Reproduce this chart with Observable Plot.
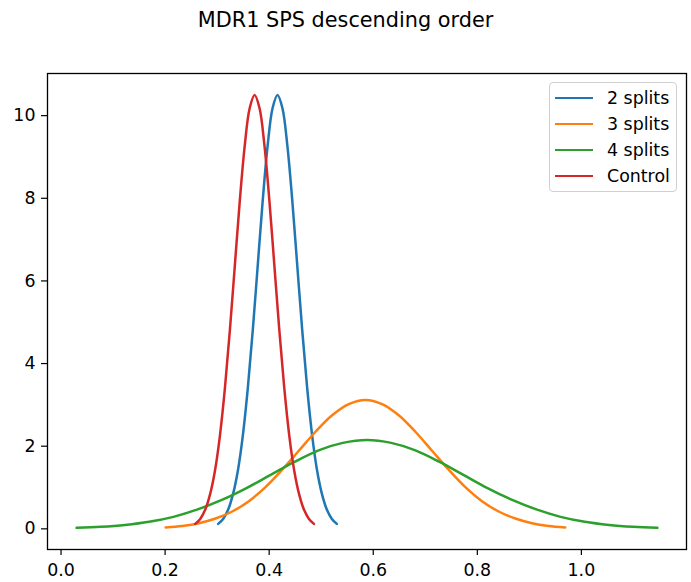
<!DOCTYPE html>
<html>
<head>
<meta charset="utf-8">
<script src="https://cdn.jsdelivr.net/npm/d3@7"></script>
<script src="https://cdn.jsdelivr.net/npm/@observablehq/plot@0.6"></script>
<style>
  html, body { margin: 0; padding: 0; background: #fff; }
  body { width: 691px; height: 582px; position: relative; font-family: "DejaVu Sans", sans-serif; }
  #title { height: 45px; text-align: center; font-size: 20.8px; line-height: 40px; color: #000; }
  #legend { position: absolute; left: 549px; top: 82px; width: 128px; height: 110px;
    border: 1px solid #d0d0d0; border-radius: 4px; background: rgba(255,255,255,0.8); box-sizing: border-box; }
  .row { position: absolute; left: 0; height: 22px; font-size: 17.4px; color: #000; }
  .row .sw { position: absolute; left: 5px; width: 38px; height: 2.5px; top: 9.5px; }
  .row .lb { position: absolute; left: 57px; top: 0; line-height: 22px; white-space: nowrap; }
</style>
</head>
<body>
<div id="title">MDR1 SPS descending order</div>
<div id="chart"></div>
<div id="legend"></div>
<script>
// Series names and colours
const seriesNames = ["2 splits", "3 splits", "4 splits", "Control"];
const seriesColors = ["#1f77b4", "#ff7f0e", "#2ca02c", "#d62728"];

// Values
const x2 = [0.302, 0.3115, 0.321, 0.3305, 0.340, 0.3495, 0.359, 0.3685, 0.378, 0.3875, 0.397, 0.4065, 0.416,
            0.4255, 0.435, 0.4445, 0.454, 0.4635, 0.473, 0.4825, 0.492, 0.5015, 0.511, 0.5205, 0.530];
const y2 = [0.12, 0.24, 0.46, 0.84, 1.42, 2.27, 3.41, 4.81, 6.37, 7.93, 9.27, 10.18, 10.5,
            10.18, 9.27, 7.93, 6.37, 4.81, 3.41, 2.27, 1.42, 0.84, 0.46, 0.24, 0.12];

const x3 = [0.201, 0.233, 0.265, 0.297, 0.329, 0.361, 0.393, 0.425, 0.457, 0.489, 0.521, 0.553, 0.585,
            0.617, 0.649, 0.681, 0.713, 0.745, 0.777, 0.809, 0.841, 0.873, 0.905, 0.937, 0.969];
const y3 = [0.035, 0.071, 0.137, 0.25, 0.42, 0.67, 1.01, 1.43, 1.89, 2.35, 2.75, 3.02, 3.12,
            3.02, 2.75, 2.35, 1.89, 1.43, 1.01, 0.67, 0.42, 0.25, 0.137, 0.071, 0.035];

const x4 = [0.030, 0.0765, 0.123, 0.1695, 0.216, 0.2625, 0.309, 0.3555, 0.402, 0.4485, 0.495, 0.5415, 0.588,
            0.6345, 0.681, 0.7275, 0.774, 0.8205, 0.867, 0.9135, 0.960, 1.0065, 1.053, 1.0995, 1.146];
const y4 = [0.024, 0.049, 0.094, 0.17, 0.29, 0.47, 0.70, 0.98, 1.30, 1.62, 1.90, 2.08, 2.15,
            2.08, 1.90, 1.62, 1.30, 0.98, 0.70, 0.47, 0.29, 0.17, 0.094, 0.049, 0.024];

const xc = [0.258, 0.2675, 0.277, 0.2865, 0.296, 0.3055, 0.315, 0.3245, 0.334, 0.3435, 0.353, 0.3625, 0.372,
            0.3815, 0.391, 0.4005, 0.410, 0.4195, 0.429, 0.4385, 0.448, 0.4575, 0.467, 0.4765, 0.486];
const yc = [0.12, 0.24, 0.46, 0.84, 1.42, 2.27, 3.41, 4.81, 6.37, 7.93, 9.27, 10.18, 10.5,
            10.18, 9.27, 7.93, 6.37, 4.81, 3.41, 2.27, 1.42, 0.84, 0.46, 0.24, 0.12];

const xTicks = [0.0, 0.2, 0.4, 0.6, 0.8, 1.0];
const yTicks = [0, 2, 4, 6, 8, 10];

const toRows = (xs, ys) => xs.map((x, i) => ({x, y: ys[i]}));
const allSeries = [toRows(x2, y2), toRows(x3, y3), toRows(x4, y4), toRows(xc, yc)];

const chart = Plot.plot({
  width: 691,
  height: 537,
  marginLeft: 47,
  marginRight: 5,
  marginTop: 28,
  marginBottom: 33,
  style: { fontFamily: "DejaVu Sans, sans-serif", fontSize: "17.4px", color: "#000", background: "#fff", overflow: "visible" },
  x: { domain: [-0.026, 1.202], label: null },
  y: { domain: [-0.5, 11.02], label: null },
  marks: [
    ...allSeries.map((rows, i) => Plot.line(rows, { x: "x", y: "y", stroke: seriesColors[i], strokeWidth: 2.5, curve: "catmull-rom" })),
    Plot.axisX(xTicks, { tickFormat: d => d.toFixed(1), tickSize: 6, tickPadding: 8, fontSize: 17.4, strokeWidth: 1.2 }),
    Plot.axisY(yTicks, { tickFormat: d => String(d), tickSize: 6, tickPadding: 6, fontSize: 17.4, strokeWidth: 1.2 }),
    Plot.frame({ stroke: "#000", strokeWidth: 1.3 })
  ]
});
document.getElementById("chart").appendChild(chart);

const legend = document.getElementById("legend");
seriesNames.forEach((name, i) => {
  const row = document.createElement("div");
  row.className = "row";
  row.style.top = (4 + i * 26) + "px";
  row.style.width = "126px";
  const sw = document.createElement("div");
  sw.className = "sw";
  sw.style.background = seriesColors[i];
  const lb = document.createElement("div");
  lb.className = "lb";
  lb.textContent = name;
  row.appendChild(sw);
  row.appendChild(lb);
  legend.appendChild(row);
});
</script>
</body>
</html>
